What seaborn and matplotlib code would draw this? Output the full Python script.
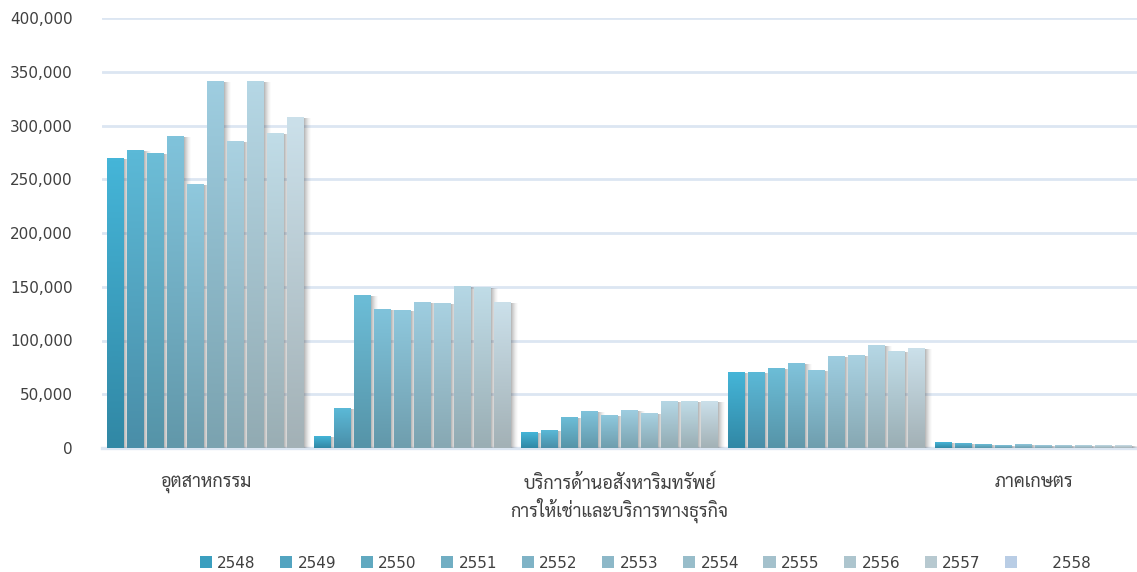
import matplotlib
matplotlib.use("Agg")
import numpy as np
import pandas as pd
import seaborn as sns
import matplotlib.pyplot as plt
import matplotlib.transforms as mtransforms
from matplotlib.patches import Rectangle, Patch
from matplotlib.colors import LinearSegmentedColormap
from matplotlib.ticker import FuncFormatter

# ---------------- data ----------------
tick_labels = ["อุตสาหกรรม", "", "บริการด้านอสังหาริมทรัพย์\nการให้เช่าและบริการทางธุรกิจ", "", "ภาคเกษตร"]
categories = ["g1", "g2", "g3", "g4", "g5"]
years = ["2548", "2549", "2550", "2551", "2552", "2553", "2554", "2555", "2556", "2557"]
legend_years = years + ["2558"]

v2548 = [269500, 11000, 14000, 70500, 5000]
v2549 = [277000, 37000, 16500, 70500, 4000]
v2550 = [273500, 142000, 28000, 73500, 3000]
v2551 = [290000, 129000, 33500, 79000, 2000]
v2552 = [245500, 128000, 30000, 72500, 3000]
v2553 = [341000, 135500, 35000, 85500, 2000]
v2554 = [285500, 134500, 32500, 86500, 2000]
v2555 = [341000, 150500, 43500, 95000, 2000]
v2556 = [293000, 149500, 43500, 90000, 2000]
v2557 = [307500, 135500, 43500, 93000, 2000]
series = [v2548, v2549, v2550, v2551, v2552, v2553, v2554, v2555, v2556, v2557]

top_colors = ["#45b5d8", "#5bb9d7", "#6cbdd7", "#80c3db", "#8fc8dd", "#9ecde0",
              "#a9d1e1", "#b5d7e5", "#c0dce7", "#cbe0ea"]
bottom_colors = ["#3188a5", "#4a8ea8", "#5694a8", "#6298aa", "#6f9eae", "#7ba3b0",
                 "#87a8b3", "#92abb3", "#9aaeb4", "#a3b1b6"]
color_2558 = "#b9cde5"

rows = []
for y, vals in zip(years, series):
    for c, v in zip(categories, vals):
        rows.append({"cat": c, "year": y, "value": v})
df = pd.DataFrame(rows)

# ---------------- figure ----------------
sns.set_theme(style="white")
plt.rcParams["font.family"] = ["DejaVu Sans"]
fig = plt.figure(figsize=(11.37, 5.72), dpi=100)
ax = fig.add_axes([102 / 1137, 124 / 572, 1035 / 1137, 430 / 572])

sns.barplot(data=df, x="cat", y="value", hue="year", order=categories, hue_order=years,
            palette=top_colors, saturation=1, width=0.965, gap=0.15, legend=False,
            ax=ax, zorder=3)

grid_c = "#dce6f2"
ax.yaxis.grid(True, color=grid_c, linewidth=2.0, zorder=0)
ax.set_axisbelow(True)
for s in ["left", "right", "top"]:
    ax.spines[s].set_visible(False)
ax.spines["bottom"].set_color(grid_c)
ax.spines["bottom"].set_linewidth(2.4)
ax.spines["bottom"].set_zorder(2)

# gradient fill + soft shadow for every bar drawn by seaborn
px = 1.0 / 100
for i, cont in enumerate(ax.containers):
    cmap = LinearSegmentedColormap.from_list("g%d" % i, [bottom_colors[i], top_colors[i]])
    for patch in cont.patches:
        x0, y0 = patch.get_x(), patch.get_y()
        w, h = patch.get_width(), patch.get_height()
        if h <= 0:
            continue
        for k, a in [(1, 0.10), (2, 0.08), (3, 0.07), (4, 0.05), (5, 0.04), (6, 0.03), (7, 0.02)]:
            tr = ax.transData + mtransforms.ScaledTranslation(k * px, -0.5 * px, fig.dpi_scale_trans)
            ax.add_patch(Rectangle((x0, y0), w, h, facecolor="#3a3a3a", alpha=a,
                                   edgecolor="none", transform=tr, zorder=2.5))
        grad = np.linspace(1, 0, 64).reshape(-1, 1)
        ax.imshow(grad, extent=[x0, x0 + w, y0, y0 + h], aspect="auto", cmap=cmap,
                  origin="upper", zorder=3.5, interpolation="bicubic")
        patch.set_alpha(0)

ax.set_xlim(-0.5, 4.5)
ax.set_ylim(0, 400000)
ax.set_aspect("auto")

ax.yaxis.set_major_formatter(FuncFormatter(lambda v, p: f"{int(v):,}"))
ax.set_yticks(np.arange(0, 400001, 50000))
ax.tick_params(axis="y", length=0, pad=21, labelsize=11, labelcolor="#404040")
ax.set_xticks(range(5))
ax.set_xticklabels(tick_labels, family=["Sarabun", "DejaVu Sans"], fontsize=13,
                   color="#404040", linespacing=1.25)
ax.tick_params(axis="x", length=0, pad=19)
ax.set_xlabel("")
ax.set_ylabel("")

handles = [Patch(facecolor=sns.blend_palette([b, t], 3)[1], edgecolor="none")
           for t, b in zip(top_colors, bottom_colors)]
handles.append(Patch(facecolor=color_2558, edgecolor="none"))
labels = years + ["      2558"]
fig.legend(handles, labels, loc="center", bbox_to_anchor=(645 / 1137, 9 / 572), ncol=11,
           frameon=False, fontsize=11, handlelength=0.8, handleheight=0.8,
           handletextpad=0.35, columnspacing=1.6, labelcolor="#404040")

fig.savefig("out.png", dpi=100)
